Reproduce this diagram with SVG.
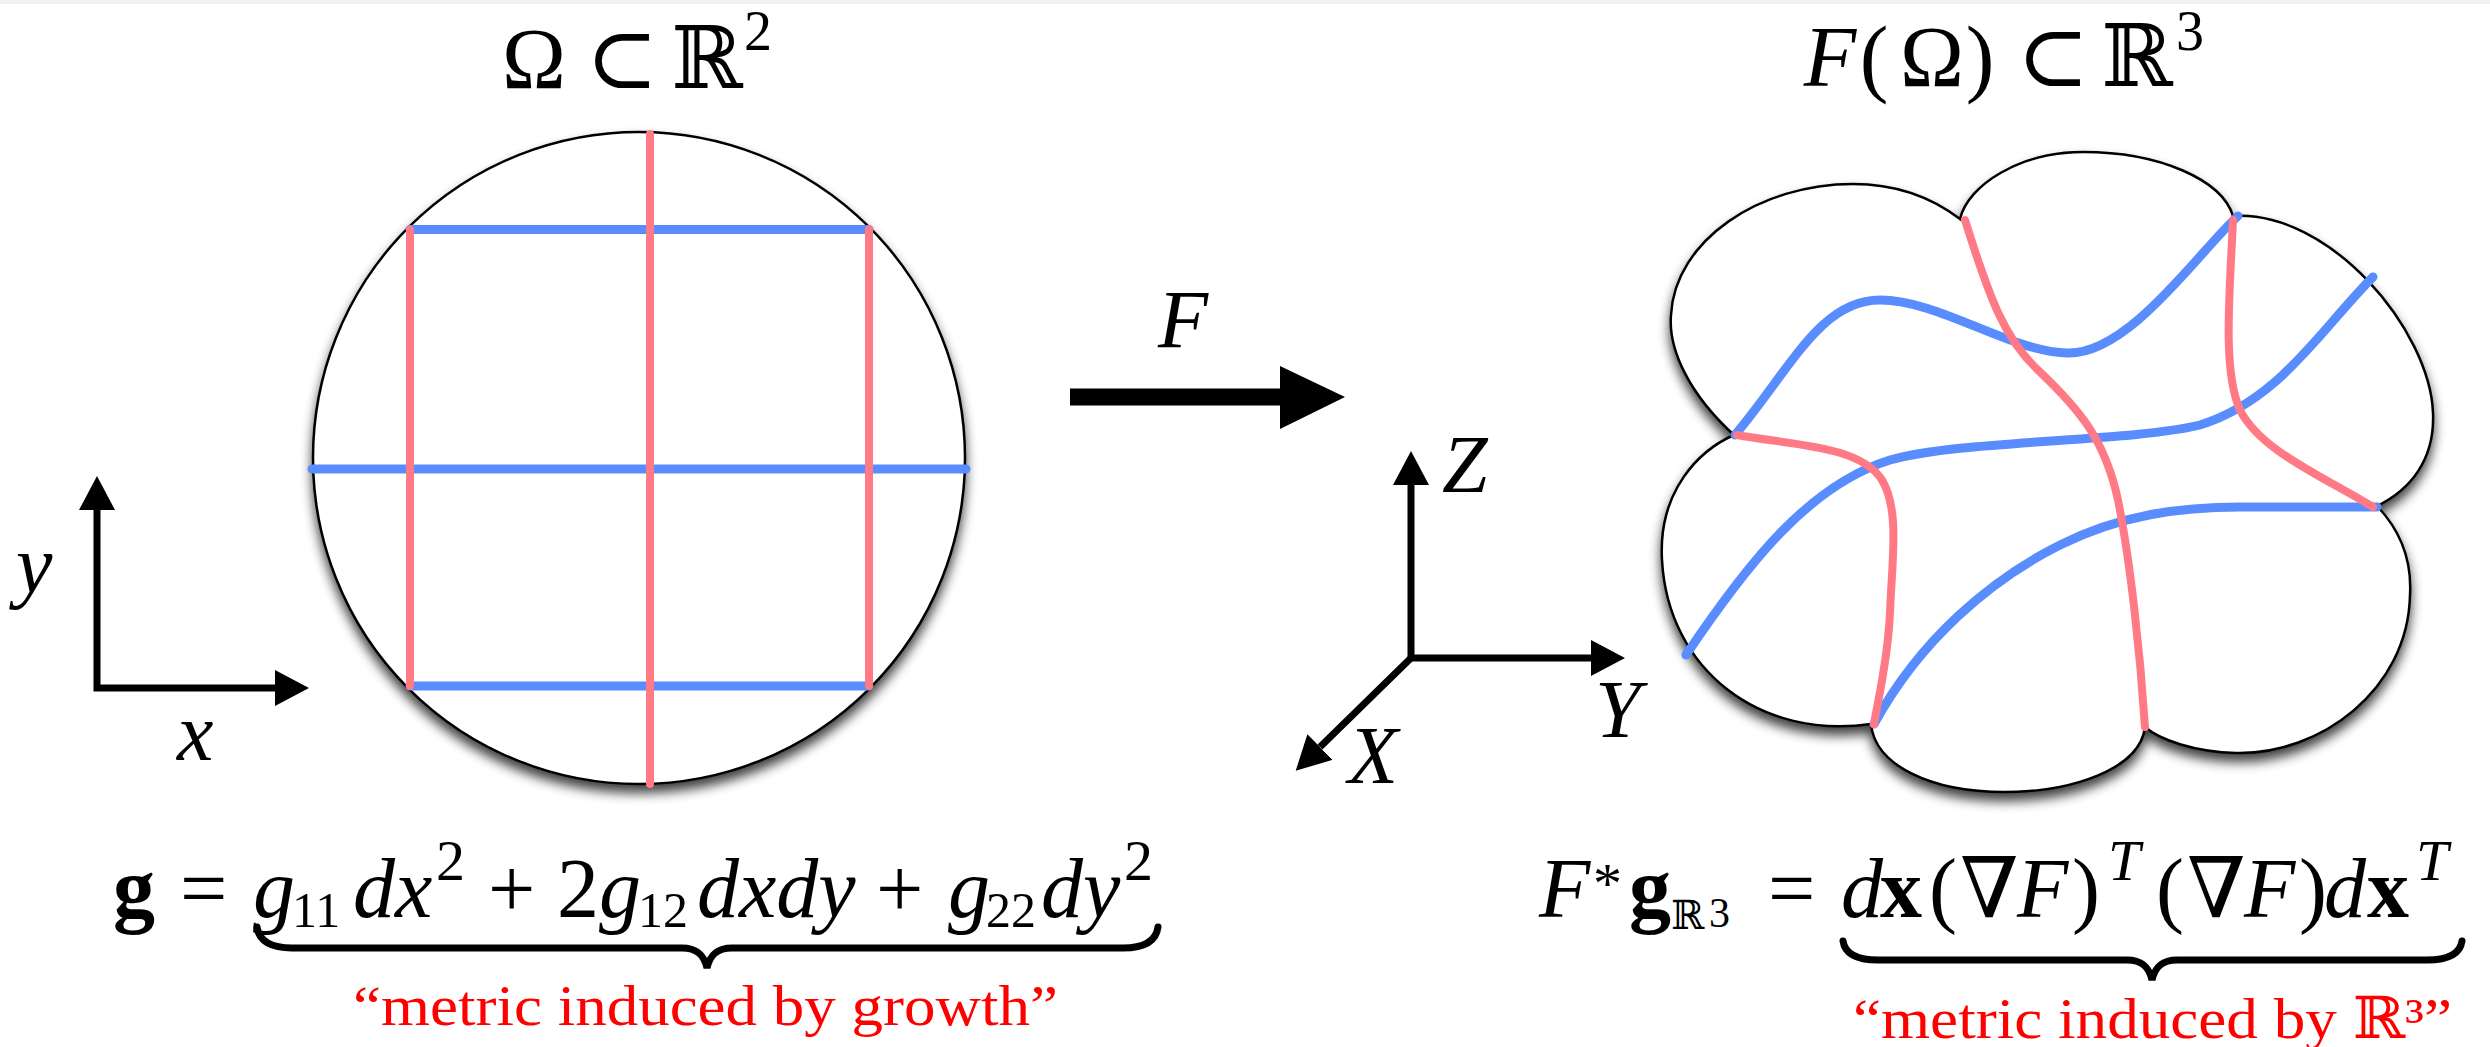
<svg xmlns="http://www.w3.org/2000/svg" width="2490" height="1047" viewBox="0 0 2490 1047">
<style>
.m{font-family:"Liberation Serif","DejaVu Serif",serif;fill:#000}
.it{font-style:italic}
.bf{font-weight:bold}
.sub{font-size:50px}
.sup{font-size:58px}
.red{fill:#ff0000}
.blue{stroke:#588cff;stroke-width:9;fill:none;stroke-linecap:round;stroke-linejoin:round}
.pink{stroke:#ff7a85;stroke-width:8;fill:none;stroke-linecap:round;stroke-linejoin:round}
.axis{stroke:#000;stroke-width:7;fill:none;stroke-linejoin:miter}
.brace{stroke:#000;stroke-width:7;fill:none;stroke-linecap:round}
.shape{fill:#fff;stroke:#000;stroke-width:2.5}
</style>
<defs>
<marker id="ah" viewBox="0 0 34 36" refX="0" refY="18" markerWidth="34" markerHeight="36" markerUnits="userSpaceOnUse" orient="auto-start-reverse">
<path d="M0,0 L34,18 L0,36 z" fill="#000"/>
</marker>
<filter id="shadow" x="-10%" y="-10%" width="120%" height="125%">
<feGaussianBlur in="SourceAlpha" stdDeviation="6"/>
<feOffset dx="0" dy="8"/>
<feComponentTransfer><feFuncA type="linear" slope="0.75"/></feComponentTransfer>
<feMerge><feMergeNode/><feMergeNode in="SourceGraphic"/></feMerge>
</filter>
</defs>
<rect x="0" y="0" width="2490" height="4" fill="#f0f0f0"/>

<g id="title-domain">
<text class="m" font-size="86" text-anchor="middle"><tspan x="534" y="88">Ω</tspan><tspan x="622" y="88">⊂</tspan><tspan x="707" y="88">ℝ</tspan><tspan x="758" y="50" font-size="56">2</tspan></text>
</g>

<g id="title-image">
<text class="m" font-size="86" text-anchor="middle"><tspan class="it" x="1830" y="86">F</tspan><tspan x="1874" y="86">(</tspan><tspan x="1932" y="86">Ω</tspan><tspan x="1980" y="86">)</tspan><tspan x="2053" y="86">⊂</tspan><tspan x="2137" y="86">ℝ</tspan><tspan x="2190" y="50" font-size="56">3</tspan></text>
</g>

<g id="domain">
<circle class="shape" cx="639" cy="458" r="326" filter="url(#shadow)"/>
<path class="blue" d="M410,229.5 H869 M312,469 H966 M410,686 H869"/>
<path class="pink" d="M410,229.5 V686 M650,134 V784 M869,229.5 V686"/>
</g>

<g id="axes-2d">
<path class="axis" d="M97,510 V688 H275" marker-start="url(#ah)" marker-end="url(#ah)"/>
<text class="m it" font-size="82" x="16" y="592">y</text>
<text class="m it" font-size="82" x="177" y="760">x</text>
</g>

<g id="image">
<path class="shape" filter="url(#shadow)" d="M1734,435 C1690,395 1668,350 1671,315 C1675,240 1760,184 1853,184 C1900,184 1935,200 1960,219 C1968,185 2020,152 2083,152 C2160,152 2222,180 2233,216 C2330,210 2430,330 2433,413 C2435,460 2410,490 2377,506 C2400,530 2412,560 2410,595 C2408,690 2320,755 2236,753 C2195,752 2160,740 2145,727 C2140,770 2070,792 2005,792 C1930,792 1875,765 1871,724 C1760,740 1668,670 1662,560 C1658,490 1700,450 1734,435 Z"/>
<path class="blue" d="M1735,435 C1790,370 1820,300 1880,300 C1940,300 2010,352 2068,353 C2130,354 2200,250 2238,216"/>
<path class="blue" d="M2373,277 C2320,330 2280,400 2200,425 C2130,442 1960,440 1890,460 C1810,485 1750,560 1686,655"/>
<path class="blue" d="M2377,507 L2240,507 C2180,507 2120,515 2060,545 C1990,580 1920,640 1874,724"/>
<path class="pink" d="M1737,435 C1790,445 1860,445 1882,480 C1900,510 1892,560 1890,612 C1888,660 1878,700 1874,724"/>
<path class="pink" d="M1965,220 C1990,300 2005,340 2040,372 C2080,410 2105,440 2118,500 C2130,560 2140,650 2145,727"/>
<path class="pink" d="M2233,220 C2230,290 2222,370 2240,410 C2260,450 2320,475 2373,507"/>
</g>

<g id="axes-3d">
<path class="axis" d="M1411,485 V658 H1591" marker-start="url(#ah)" marker-end="url(#ah)"/>
<path class="axis" d="M1411,658 L1320,747" marker-end="url(#ah)"/>
<text class="m it" font-size="82" x="1442" y="492">Z</text>
<text class="m it" font-size="82" x="1595" y="737">Y</text>
<text class="m it" font-size="82" x="1348" y="783">X</text>
</g>

<g id="connectors">
<line x1="1070" y1="397" x2="1282" y2="397" stroke="#000" stroke-width="17"/>
<polygon points="1280,366 1345,397 1280,429" fill="#000"/>
<text class="m it" font-size="82" x="1158" y="347">F</text>
</g>

<g id="formula-left">
<text class="m" font-size="84">
<tspan class="bf" x="113" y="917">g</tspan>
<tspan x="180" y="917">=</tspan>
<tspan class="it" x="253" y="917">g</tspan>
<tspan class="sub" x="292" y="927">11</tspan>
<tspan class="it" x="353" y="917">dx</tspan>
<tspan class="sup" x="436" y="880">2</tspan>
<tspan x="488" y="917">+</tspan>
<tspan x="557" y="917">2<tspan class="it">g</tspan></tspan>
<tspan class="sub" x="638" y="927">12</tspan>
<tspan class="it" x="697" y="917">dxdy</tspan>
<tspan x="876" y="917">+</tspan>
<tspan class="it" x="948" y="917">g</tspan>
<tspan class="sub" x="986" y="927">22</tspan>
<tspan class="it" x="1041" y="917">dy</tspan>
<tspan class="sup" x="1124" y="880">2</tspan>
</text>
<path class="brace" d="M257,927 C259,942 272,948 292,948 L682,948 C697,948 704,955 707,968 C710,955 717,948 732,948 L1123,948 C1143,948 1156,942 1158,927"/>
<text class="m red" font-size="58" x="353" y="1025" textLength="705" lengthAdjust="spacingAndGlyphs">“metric induced by growth”</text>
</g>

<g id="formula-right">
<text class="m" font-size="84">
<tspan class="it" x="1539" y="917">F<tspan class="sup" dy="-14">*</tspan></tspan>
<tspan class="bf" x="1629" y="917">g</tspan>
<tspan x="1671" y="929" font-size="40">ℝ</tspan>
<tspan x="1709" y="927" font-size="42">3</tspan>
<tspan x="1768" y="917">=</tspan>
<tspan class="it" x="1841" y="917">d</tspan>
<tspan class="bf" x="1880" y="917">x</tspan>
<tspan x="1929" y="917">(</tspan>
<tspan x="1960" y="917">∇</tspan>
<tspan class="it" x="2017" y="917">F</tspan>
<tspan x="2072" y="917">)</tspan>
<tspan class="sup it" x="2108" y="880">T</tspan>
<tspan x="2156" y="917">(</tspan>
<tspan x="2187" y="917">∇</tspan>
<tspan class="it" x="2244" y="917">F</tspan>
<tspan x="2299" y="917">)</tspan>
<tspan class="it" x="2324" y="917">d</tspan>
<tspan class="bf" x="2367" y="917">x</tspan>
<tspan class="sup it" x="2416" y="880">T</tspan>
</text>
<path class="brace" d="M1843,941 C1845,955 1858,960 1878,960 L2127,960 C2142,960 2149,967 2152,980 C2155,967 2162,960 2177,960 L2427,960 C2447,960 2460,955 2462,941"/>
<text class="m red" font-size="58" x="1853" y="1038" textLength="599" lengthAdjust="spacingAndGlyphs">“metric induced by ℝ³”</text>
</g>
</svg>
